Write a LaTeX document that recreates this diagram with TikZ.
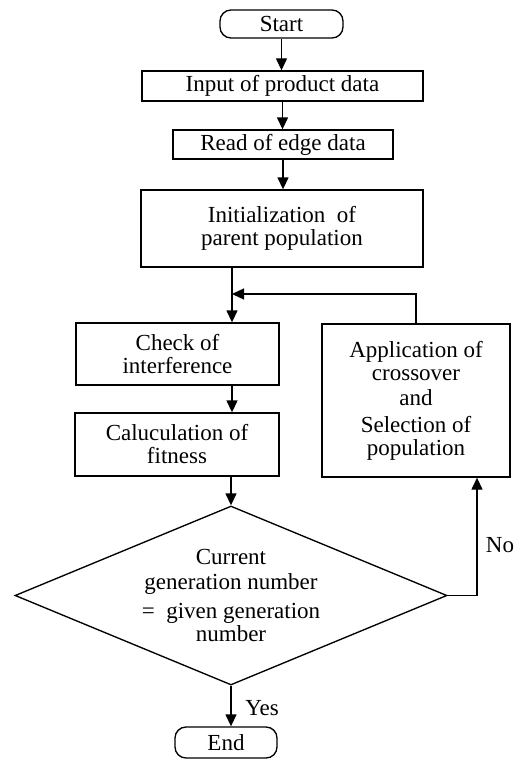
\documentclass[tikz,border=0pt]{standalone}
\usepackage{fontspec}
\setmainfont{Liberation Serif}
\usetikzlibrary{arrows.meta,shapes.geometric}
\begin{document}
\begin{tikzpicture}[x=1pt,y=-1pt,line width=1.35pt,
  txt/.style={font=\fontsize{23}{23}\selectfont},
  box/.style={txt,draw,rectangle,inner sep=0pt,align=center},
  term/.style={txt,draw,rounded corners=11pt,inner sep=0pt},
  arr/.style={-{Triangle[length=12pt,width=11pt]}}]
\useasboundingbox (0,0) rectangle (528,760);
\node[term,minimum width=123pt,minimum height=28pt] (start) at (281.5,24) {Start};
\node[box,minimum width=281pt,minimum height=30pt] (input) at (282.5,86) {Input of product data};
\node[box,minimum width=282pt,minimum height=77pt] (init) at (282,228.5) {Initialization\ \ of\\parent population};
\node[box,minimum width=220pt,minimum height=29pt] (read) at (283,144.5) {Read of edge data};
\node[box,minimum width=203pt,minimum height=62pt] (check) at (177.5,354) {Check of\\interference};
\node[box,minimum width=204pt,minimum height=63pt] (calc) at (177,444.5) {Caluculation of\\fitness};
\node[box,minimum width=188pt,minimum height=153pt] (app) at (416,400.5) {Application of\\crossover\\[2pt]and\\[4pt]Selection of\\population};
\node[txt,draw,diamond,shape aspect=2.41,minimum width=432pt,minimum height=179pt,inner sep=0pt,align=center] (dec) at (231,595.5) {Current\\[2pt]generation number\\[6pt]=\ \ given generation\\number};
\node[term,minimum width=102pt,minimum height=31pt] (end) at (226,742.5) {End};
\coordinate (jx) at (232,294);
\coordinate (noc) at (477,595);
\draw[arr] (start.south) -- (start.south |- input.north);
\draw[arr] (input.south) -- (input.south |- read.north);
\draw[arr] (read.south) -- (read.south |- init.north);
\draw (init.south -| jx) -- (jx);
\draw[arr] (jx) -- (jx |- check.north);
\draw[arr] (app.north) |- (jx);
\draw[arr] (check.south -| jx) -- (calc.north -| jx);
\draw[arr] (calc.south -| dec.north) -- (dec.north);
\draw[arr] (dec.east) -| (noc |- app.south);
\node[txt] (no) at (500,545) {No};
\draw[arr] (dec.south) -- (dec.south |- end.north);
\node[txt] (yes) at (262,708) {Yes};
\end{tikzpicture}
\end{document}
